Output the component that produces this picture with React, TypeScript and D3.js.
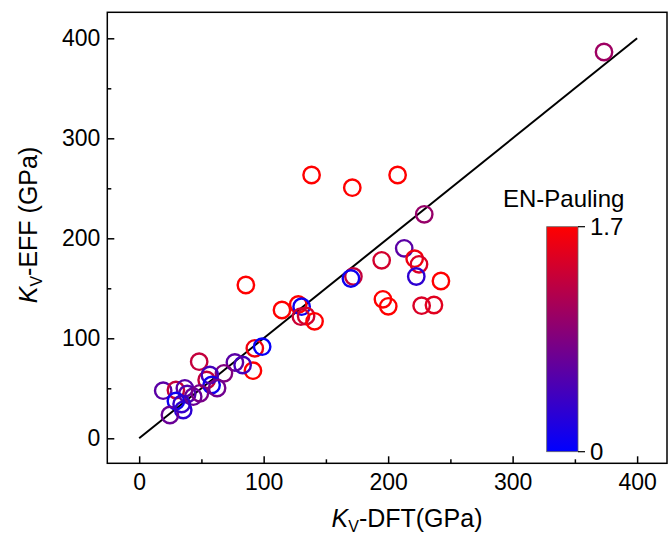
import React, { useEffect, useRef } from 'react';
import * as d3 from 'd3';

// K_V from DFT (GPa), K_V from the effective model (GPa), Pauling EN difference
const kvDft = [373.4, 138.5, 171.2, 207.6, 229.0, 212.9, 194.8, 221.3, 224.8, 222.6, 242.4, 195.8, 200.1, 226.9, 236.8,
  172.1, 170.1, 114.7, 127.8, 130.5, 129.9, 134.1, 140.9, 85.7, 92.9, 98.8, 91.4, 83.1, 76.9, 68.1,
  48.2, 54.2, 56.8, 58.2, 62.6, 19.3, 29.5, 36.7, 38.6, 29.5, 35.4, 24.7, 43.4, 48.8, 34.1];
const kvEff = [386.3, 263.3, 250.6, 263.3, 224.0, 190.0, 178.0, 179.6, 174.0, 161.8, 157.3, 139.0, 132.0, 132.6, 133.3,
  161.8, 159.8, 128.3, 133.8, 131.6, 121.6, 122.3, 117.0, 153.3, 90.0, 91.6, 67.6, 73.3, 75.8, 65.0,
  76.6, 58.3, 63.3, 53.3, 50.3, 47.6, 48.3, 50.0, 44.3, 37.3, 28.3, 23.3, 41.6, 45.0, 34.3];
const enPauling = [1.05, 1.7, 1.7, 1.7, 1.0, 0.6, 1.4, 1.6, 1.45, 0.3, 1.7, 1.7, 1.7, 1.45, 1.5,
  1.3, 0.1, 1.7, 1.7, 0.1, 1.35, 1.4, 1.7, 1.7, 1.6, 0.05, 1.7, 0.45, 0.6, 0.85,
  1.3, 1.3, 0.45, 0.1, 0.75, 0.6, 1.3, 0.6, 0.55, 0.1, 0.3, 0.7, 0.7, 0.8, 0.35];

const majorTicks = [0, 100, 200, 300, 400];
const minorTicks = [50, 150, 250, 350];
const enRange = [0, 1.7];
const enTickLabels = ['0', '1.7'];

const W = 668, H = 536;
const font = '"Liberation Sans", Arial, sans-serif';

export default function App() {
  const ref = useRef<SVGSVGElement>(null);

  useEffect(() => {
    const svg = d3.select(ref.current);
    svg.selectAll('*').remove();

    const left = 107.3, right = 667, top = 12.3, bottom = 463.3;
    const x = d3.scaleLinear().domain([-25.6, 424]).range([left, right]);
    const y = d3.scaleLinear().domain([-25, 426]).range([bottom, top]);
    const color = d3.scaleLinear<string>().domain(enRange).range(['#0000ff', '#ff0000']);

    // frame
    svg.append('rect')
      .attr('x', left).attr('y', top)
      .attr('width', right - left).attr('height', bottom - top)
      .attr('fill', 'none').attr('stroke', '#000').attr('stroke-width', 1.5);

    // axes, ticks pointing inward
    const xAxis = svg.append('g').attr('transform', `translate(0,${bottom})`)
      .call(d3.axisBottom(x).tickValues(majorTicks).tickSize(-7).tickPadding(10).tickFormat(d3.format('d')));
    svg.append('g').attr('transform', `translate(0,${bottom})`)
      .call(d3.axisBottom(x).tickValues(minorTicks).tickSize(-4).tickFormat(() => ''));
    const yAxis = svg.append('g').attr('transform', `translate(${left},0)`)
      .call(d3.axisLeft(y).tickValues(majorTicks).tickSize(-7).tickPadding(7).tickFormat(d3.format('d')));
    svg.append('g').attr('transform', `translate(${left},0)`)
      .call(d3.axisLeft(y).tickValues(minorTicks).tickSize(-4).tickFormat(() => ''));

    svg.selectAll('.domain').remove();
    svg.selectAll('.tick line').attr('stroke', '#000').attr('stroke-width', 1.5);
    [xAxis, yAxis].forEach(g => g.selectAll('text')
      .attr('font-family', font).attr('font-size', 23).attr('fill', '#000'));

    // y = x reference line
    svg.append('line')
      .attr('x1', x(0)).attr('y1', y(0))
      .attr('x2', x(400)).attr('y2', y(400))
      .attr('stroke', '#000').attr('stroke-width', 2);

    // points
    svg.append('g').selectAll('circle')
      .data(kvDft.map((d, i) => ({ dft: d, eff: kvEff[i], en: enPauling[i] })))
      .join('circle')
      .attr('cx', d => x(d.dft))
      .attr('cy', d => y(d.eff))
      .attr('r', 8.2)
      .attr('fill', 'none')
      .attr('stroke', d => color(d.en))
      .attr('stroke-width', 2.4);

    // colour bar
    const cb = { x: 546.7, w: 31.3 };
    const cy = d3.scaleLinear().domain(enRange).range([451.7, 226.7]);
    const grad = svg.append('defs').append('linearGradient')
      .attr('id', 'enGrad').attr('x1', 0).attr('y1', 1).attr('x2', 0).attr('y2', 0);
    grad.append('stop').attr('offset', '0%').attr('stop-color', color(enRange[0]));
    grad.append('stop').attr('offset', '100%').attr('stop-color', color(enRange[1]));
    svg.append('rect')
      .attr('x', cb.x).attr('y', cy(enRange[1]))
      .attr('width', cb.w).attr('height', cy(enRange[0]) - cy(enRange[1]))
      .attr('fill', 'url(#enGrad)').attr('stroke', '#666').attr('stroke-width', 0.8);
    const cbTicks = svg.append('g');
    enRange.forEach((v, i) => {
      cbTicks.append('line')
        .attr('x1', cb.x + cb.w).attr('x2', cb.x + cb.w + 7)
        .attr('y1', cy(v)).attr('y2', cy(v))
        .attr('stroke', '#000').attr('stroke-width', 1.2);
      cbTicks.append('text')
        .attr('x', cb.x + cb.w + 12).attr('y', cy(v)).attr('dy', '0.36em')
        .attr('font-family', font).attr('font-size', 24)
        .text(enTickLabels[i]);
    });
    svg.append('text')
      .attr('x', 503).attr('y', 207)
      .attr('font-family', font).attr('font-size', 24)
      .text('EN-Pauling');

    // axis titles
    const xt = svg.append('text')
      .attr('x', 407).attr('y', 527).attr('text-anchor', 'middle')
      .attr('font-family', font).attr('font-size', 25);
    xt.append('tspan').attr('font-style', 'italic').text('K');
    xt.append('tspan').attr('font-size', 16).attr('dy', 5).text('V');
    xt.append('tspan').attr('dy', -5).text('-DFT(GPa)');

    const yt = svg.append('text')
      .attr('transform', `translate(37,225) rotate(-90)`).attr('text-anchor', 'middle')
      .attr('font-family', font).attr('font-size', 25);
    yt.append('tspan').attr('font-style', 'italic').text('K');
    yt.append('tspan').attr('font-size', 16).attr('dy', 5).text('V');
    yt.append('tspan').attr('dy', -5).text('-EFF (GPa)');
  }, []);

  return (
    <svg ref={ref} width={W} height={H}
      style={{ position: 'absolute', left: 0, top: 0, background: '#fff' }} />
  );
}
